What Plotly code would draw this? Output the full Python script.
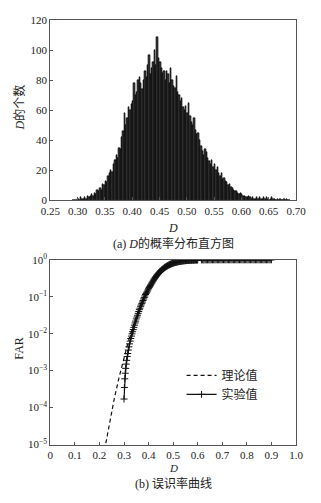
import plotly.graph_objects as go

# ---------------- (a) histogram data ----------------
hist_start = 0.29
hist_width = 0.0025
hist_counts = [
    0, 0, 0, 0,
    1, 0, 2, 1,
    1, 2, 1, 3,
    2, 3, 4, 3,
    5, 4, 7, 6,
    8, 7, 11, 10,
    13, 12, 16, 18,
    20, 19, 24, 27,
    30, 28, 35, 34,
    42, 46, 58, 50,
    55, 62, 60, 64,
    66, 78, 70, 72,
    80, 82, 78, 74,
    80, 86, 82, 90,
    97, 84, 88, 92,
    100, 90, 109, 95,
    92, 88, 85, 86,
    80, 86, 84, 78,
    88, 80, 76, 75,
    83, 72, 70, 66,
    68, 62, 60, 63,
    58, 65, 56, 52,
    50, 55, 47, 44,
    45, 40, 36, 33,
    30, 34, 32, 28,
    26, 24, 27, 22,
    24, 20, 22, 18,
    16, 18, 14, 15,
    13, 12, 10, 11,
    9, 8, 7, 6,
    6, 5, 4, 5,
    4, 3, 3, 2,
    2, 3, 2, 1,
    2, 1, 1, 2,
    1, 2, 1, 1,
    2, 1, 2, 1,
    0, 1, 2, 1,
    1, 0, 1, 0,
    1, 0, 0, 1,
    0, 1, 0, 0,
]
hist_x = [round(hist_start + hist_width * (i + 0.5), 5) for i in range(len(hist_counts))]

# ---------------- (b) FAR curves ----------------
theory_D = [0.21, 0.22, 0.24, 0.26, 0.28, 0.30, 0.32, 0.34, 0.36, 0.38, 0.40, 0.42, 0.44,
            0.46, 0.48, 0.50, 0.52, 0.54, 0.56, 0.58, 0.60, 0.62, 0.64, 0.66, 0.70, 0.80, 0.90]
theory_FAR = [3.0e-6, 7.1e-6, 3.7e-5, 1.7e-4, 6.6e-4, 2.3e-3, 7.1e-3, 0.019, 0.045, 0.093, 0.174,
              0.285, 0.425, 0.575, 0.715, 0.826, 0.907, 0.955, 0.981, 0.993, 0.9977, 0.9993,
              0.9998, 0.99995, 1.0, 1.0, 1.0]

exp_D = [
    0.300, 0.3015, 0.303, 0.305, 0.307, 0.309, 0.311, 0.313, 0.315, 0.3175,
    0.320, 0.3225, 0.325, 0.3275, 0.330, 0.3325, 0.335, 0.3375, 0.340, 0.3425,
    0.345, 0.3475, 0.350, 0.3525, 0.355, 0.3575, 0.360, 0.3625, 0.365, 0.3675,
    0.370, 0.3725, 0.375, 0.3775, 0.380, 0.3825, 0.385, 0.3875, 0.390, 0.3925,
    0.395, 0.3975, 0.400, 0.4025, 0.405, 0.4075, 0.410, 0.4125, 0.415, 0.4175,
    0.420, 0.4225, 0.425, 0.4275, 0.430, 0.4325, 0.435, 0.4375, 0.440, 0.4425,
    0.445, 0.4475, 0.450, 0.4525, 0.455, 0.4575, 0.460, 0.4625, 0.465, 0.4675,
    0.470, 0.4725, 0.475, 0.4775, 0.480, 0.4825, 0.485, 0.4875, 0.490, 0.4925,
    0.495, 0.4975, 0.500, 0.5025, 0.505, 0.5075, 0.510, 0.5125, 0.515, 0.5175,
    0.520, 0.5225, 0.525, 0.5275, 0.530, 0.5325, 0.535, 0.5375, 0.540, 0.5425,
    0.545, 0.5475, 0.550, 0.5525, 0.555, 0.5575, 0.560, 0.5625, 0.565, 0.5675,
    0.570, 0.5725, 0.575, 0.5775, 0.580, 0.5825, 0.585, 0.5875, 0.590, 0.5925,
    0.595, 0.5975, 0.600, 0.6150, 0.6200, 0.6250, 0.6300, 0.6350, 0.6400, 0.6450,
    0.6500, 0.6550, 0.6600, 0.6650, 0.6700, 0.6750, 0.6800, 0.6850, 0.6900, 0.6950,
    0.7000, 0.7050, 0.7100, 0.7150, 0.7200, 0.7250, 0.7300, 0.7350, 0.7400, 0.7450,
    0.7500, 0.7550, 0.7600, 0.7650, 0.7700, 0.7750, 0.7800, 0.7850, 0.7900, 0.7950,
    0.8000, 0.8050, 0.8100, 0.8150, 0.8200, 0.8250, 0.8300, 0.8350, 0.8400, 0.8450,
    0.8500, 0.8550, 0.8600, 0.8650, 0.8700, 0.8750, 0.8800, 0.8850, 0.8900, 0.8950,
    0.9000,
]
exp_FAR = [
    1.7e-4, 3.5e-4, 6.0e-4, 8.5e-4, 1.15e-3, 1.5e-3, 1.9e-3, 2.4e-3, 2.9e-3, 3.6e-3,
    4.4e-3, 5.3e-3, 6.3e-3, 7.4e-3, 8.6e-3, 9.9e-3, 0.0113, 0.0129, 0.0148, 0.0170,
    0.0195, 0.0219, 0.0251, 0.0282, 0.0316, 0.0355, 0.0398, 0.0447, 0.049, 0.055,
    0.060, 0.066, 0.072, 0.079, 0.087, 0.095, 0.105, 0.115, 0.123, 0.132,
    0.142, 0.153, 0.165, 0.177, 0.190, 0.203, 0.217, 0.232, 0.247, 0.263,
    0.280, 0.297, 0.315, 0.333, 0.352, 0.371, 0.390, 0.409, 0.428, 0.447,
    0.466, 0.485, 0.504, 0.523, 0.541, 0.559, 0.577, 0.595, 0.612, 0.629,
    0.646, 0.662, 0.678, 0.694, 0.709, 0.724, 0.738, 0.752, 0.765, 0.778,
    0.790, 0.802, 0.813, 0.824, 0.834, 0.844, 0.853, 0.862, 0.870, 0.878,
    0.886, 0.893, 0.900, 0.906, 0.912, 0.918, 0.923, 0.928, 0.933, 0.937,
    0.941, 0.945, 0.949, 0.952, 0.955, 0.958, 0.961, 0.964, 0.967, 0.969,
    0.971, 0.973, 0.975, 0.977, 0.979, 0.981, 0.983, 0.984, 0.986, 0.987,
    0.988, 0.989, 0.990, 0.992, 0.993, 0.994, 0.995, 0.995, 0.996, 0.996,
    0.997, 0.997, 0.998, 0.998, 0.998, 0.999, 0.999, 0.999, 0.999, 0.999,
    1.0, 1.0, 1.0, 1.0, 1.0, 1.0, 1.0, 1.0, 1.0, 1.0,
    1.0, 1.0, 1.0, 1.0, 1.0, 1.0, 1.0, 1.0, 1.0, 1.0,
    1.0, 1.0, 1.0, 1.0, 1.0, 1.0, 1.0, 1.0, 1.0, 1.0,
    1.0, 1.0, 1.0, 1.0, 1.0, 1.0, 1.0, 1.0, 1.0, 1.0,
    1.0,
]

hist_xticks = [0.25, 0.30, 0.35, 0.40, 0.45, 0.50, 0.55, 0.60, 0.65, 0.70]
hist_yticks = [0, 20, 40, 60, 80, 100, 120]
far_xticks = [0, 0.1, 0.2, 0.3, 0.4, 0.5, 0.6, 0.7, 0.8, 0.9, 1.0]
far_xticktext = ["0", "0.1", "0.2", "0.3", "0.4", "0.5", "0.6", "0.7", "0.8", "0.9", "1.0"]
far_yticks = [1e-5, 1e-4, 1e-3, 1e-2, 1e-1, 1e0]
far_yticktext = ["10<sup>−5</sup>", "10<sup>−4</sup>", "10<sup>−3</sup>",
                 "10<sup>−2</sup>", "10<sup>−1</sup>", "10<sup>0</sup>"]

FONT = "'Liberation Serif', 'Times New Roman', 'Noto Sans CJK SC', serif"
W, H = 321, 503
xd = [43 / W, 305 / W]
top_dom = [1 - 198 / H, 1 - 12.5 / H]
bot_dom = [1 - 449 / H, 1 - 259 / H]

fig = go.Figure()
fig.add_trace(go.Bar(
    x=hist_x, y=hist_counts, width=hist_width,
    marker=dict(color="#3c3c3c", line=dict(color="#000000", width=0.6)),
    xaxis="x", yaxis="y", showlegend=False,
))
fig.add_trace(go.Scatter(
    x=theory_D, y=theory_FAR, mode="lines", name="理论值",
    line=dict(color="#111111", width=1.2, dash="4px,3px"),
    xaxis="x2", yaxis="y2",
))
fig.add_trace(go.Scatter(
    x=exp_D, y=exp_FAR, mode="lines+markers", name="实验值",
    line=dict(color="#111111", width=1.2),
    marker=dict(symbol="cross-thin", size=5, line=dict(color="#111111", width=1)),
    xaxis="x2", yaxis="y2",
))

axcommon = dict(showline=True, linecolor="#555555", linewidth=1, mirror=True,
                ticks="inside", ticklen=3, tickcolor="#555555", showgrid=False,
                zeroline=False, tickfont=dict(family=FONT, size=11, color="#222222"))

fig.update_layout(
    width=W, height=H,
    margin=dict(l=0, r=0, t=0, b=0),
    paper_bgcolor="white", plot_bgcolor="white",
    bargap=0,
    font=dict(family=FONT, color="#222222"),
    xaxis=dict(domain=xd, anchor="y", range=[0.25, 0.70], tickvals=hist_xticks,
               tickformat=".2f", **axcommon),
    yaxis=dict(domain=top_dom, anchor="x", range=[0, 120], tickvals=hist_yticks, **axcommon),
    xaxis2=dict(domain=xd, anchor="y2", range=[0, 1.0], tickvals=far_xticks,
                ticktext=far_xticktext, **axcommon),
    yaxis2=dict(domain=bot_dom, anchor="x2", type="log", range=[-5, 0],
                tickvals=far_yticks, ticktext=far_yticktext, **axcommon),
    legend=dict(x=0.57, y=1 - 363 / H, xref="paper", yref="paper", xanchor="left", yanchor="top",
                bgcolor="rgba(0,0,0,0)", font=dict(family=FONT, size=12, color="#222222"),
                tracegroupgap=0, itemwidth=30),
)

def label(text, x, y, angle=0, size=12):
    return dict(text=text, x=x / W, y=1 - y / H, xref="paper", yref="paper",
                xanchor="center", yanchor="middle", showarrow=False, textangle=angle,
                font=dict(family=FONT, size=size, color="#222222"))

cx = (43 + 305) / 2
annotations = [
    label("<i>D</i>", cx, 226),
    label("(a) <i>D</i>的概率分布直方图", cx, 242),
    label("<i>D</i>的个数", 10, 102, -90),
    label("<i>D</i>", cx, 473, size=11),
    label("(b) 误识率曲线", cx, 489),
    label("FAR", 10, 350, -90),
]
fig.update_layout(annotations=annotations)

fig.write_html("out.html",
               config={"displayModeBar": False},
               post_script="document.body.style.margin='0';document.body.style.padding='0';")
